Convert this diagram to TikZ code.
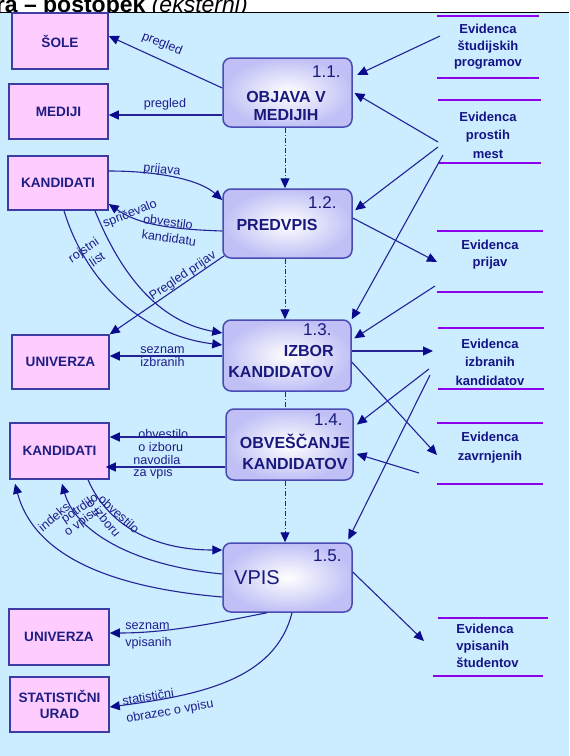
\documentclass[tikz,border=0pt]{standalone}
\usepackage{fontspec}
\setmainfont{Liberation Sans}
\usetikzlibrary{arrows.meta}

\definecolor{bgblue}{RGB}{204,236,255}
\definecolor{entfill}{RGB}{255,204,255}
\definecolor{entline}{RGB}{60,60,165}
\definecolor{entnavy}{RGB}{30,30,130}
\definecolor{procline}{RGB}{75,75,180}
\definecolor{proclav}{RGB}{192,192,246}
\definecolor{procnavy}{RGB}{25,25,125}
\definecolor{storenavy}{RGB}{20,20,135}
\definecolor{storeviolet}{RGB}{140,0,235}
\definecolor{flowblue}{RGB}{35,35,150}
\definecolor{tipnavy}{RGB}{10,10,140}
\definecolor{labnavy}{RGB}{30,30,140}

\begin{document}
\begin{tikzpicture}[x=0.5pt,y=-0.5pt,
  ent/.style={draw=entline, line width=0.75pt, fill=entfill, text=entnavy,
    font=\bfseries\fontsize{6.8}{8.5}\selectfont, align=center, inner sep=0pt},
  proc/.style={draw=procline, line width=0.75pt, rounded corners=4pt,
    inner color=white, outer color=proclav, inner sep=0pt},
  pnum/.style={text=procnavy, font=\fontsize{8.5}{10}\selectfont, inner sep=0pt, anchor=east},
  pname/.style={text=procnavy, font=\bfseries\fontsize{8}{9}\selectfont, inner sep=0pt, align=center},
  store/.style={text=storenavy, font=\bfseries\fontsize{6.5}{8.6}\selectfont, inner sep=0pt, align=center},
  storeline/.style={draw=storeviolet, line width=1.2pt},
  flow/.style={draw=flowblue, line width=0.55pt, -{Triangle[length=5pt,width=4.5pt,color=tipnavy]}},
  ctrl/.style={draw=flowblue, line width=0.5pt, dash pattern=on 2.5pt off 1pt on 0.5pt off 1pt},
  lbl/.style={text=labnavy, font=\fontsize{6.3}{6.5}\selectfont, inner sep=0pt}
]
\useasboundingbox (0,0) rectangle (569,756);
\clip (0,0) rectangle (569,756);

% heading, cut by the frame
\node[anchor=base west, inner sep=0pt, font=\fontsize{11.5}{13}\selectfont] (title) at (-4.5,12.5)
  {\bfseries ra – postopek \normalfont\itshape(eksterni)};
\fill[bgblue] (0,13) rectangle (569,756);
\draw[black, line width=0.7pt] (0,12.5) -- (569,12.5);

% external entities
\node[ent, minimum width=48pt, minimum height=28pt] (sole) at (60,41) {ŠOLE};
\node[ent, minimum width=49.5pt, minimum height=27.5pt] (mediji) at (58.5,111.5) {MEDIJI};
\node[ent, minimum width=50pt, minimum height=27pt] (kand1) at (58,183) {KANDIDATI};
\node[ent, minimum width=48.5pt, minimum height=27pt] (univ1) at (60.5,362) {UNIVERZA};
\node[ent, minimum width=49.5pt, minimum height=28pt] (kand2) at (59.5,451) {KANDIDATI};
\node[ent, minimum width=50pt, minimum height=28pt] (univ2) at (59,637) {UNIVERZA};
\node[ent, minimum width=49.5pt, minimum height=27.5pt, font=\bfseries\fontsize{6.8}{8}\selectfont] (stat) at (59.5,704.5) {STATISTIČNI\\URAD};

% processes
\node[proc, minimum width=64.5pt, minimum height=34.5pt] (p1) at (287.5,92.5) {};
\node[proc, minimum width=64.5pt, minimum height=34.5pt] (p2) at (287.5,223.5) {};
\node[proc, minimum width=64pt, minimum height=35.5pt] (p3) at (287,355.5) {};
\node[proc, minimum width=63.5pt, minimum height=35.5pt] (p4) at (289.5,444.5) {};
\node[proc, minimum width=64.5pt, minimum height=34.5pt] (p5) at (287.5,577.5) {};

\node[pnum] (p1num) at (341,72) {1.1.};
\node[pnum] (p2num) at (337,203) {1.2.};
\node[pnum] (p3num) at (332,330) {1.3.};
\node[pnum] (p4num) at (343,420) {1.4.};
\node[pnum] (p5num) at (342,556) {1.5.};
\node[pname] (p1txt) at (286,106) {OBJAVA V\\MEDIJIH};
\node[pname] (p2txt) at (277,225) {PREDVPIS};
\node[pname, align=right, anchor=east, font=\bfseries\fontsize{8}{10.5}\selectfont] (p3txt) at (334,361.5) {IZBOR\\KANDIDATOV};
\node[pname, font=\bfseries\fontsize{8}{10.5}\selectfont] (p4txt) at (295,451.5) {OBVEŠČANJE\\KANDIDATOV};
\node[pname, font=\fontsize{10}{12}\selectfont] (p5txt) at (257,578) {VPIS};

% data stores
\draw[storeline] (437,16) -- (539,16) (437,78) -- (539,78);
\draw[storeline] (438,100) -- (541,100) (438,163) -- (541,163);
\draw[storeline] (437,231) -- (543,231) (437,292) -- (543,292);
\draw[storeline] (438,328) -- (544,328) (438,389) -- (544,389);
\draw[storeline] (437,423) -- (543,423) (437,484) -- (543,484);
\draw[storeline] (438,618) -- (548,618) (433,676) -- (543,676);
\node[store, font=\bfseries\fontsize{6.5}{8.3}\selectfont] (ds1) at (488,47) {Evidenca\\študijskih\\programov};
\node[store, font=\bfseries\fontsize{6.5}{9.2}\selectfont] (ds2) at (488,135) {Evidenca\\prostih\\mest};
\node[store] (ds3) at (490,255) {Evidenca\\prijav};
\node[store, font=\bfseries\fontsize{6.5}{9.2}\selectfont] (ds4) at (490,362) {Evidenca\\izbranih\\kandidatov};
\node[store, font=\bfseries\fontsize{6.5}{9.5}\selectfont] (ds5) at (490,447.5) {Evidenca\\zavrnjenih};
\node[store, align=left, anchor=west] (ds6) at (456,646) {Evidenca\\vpisanih\\študentov};

% loose ends of the store flows
\coordinate (e1a) at (440,36);
\coordinate (e2a) at (438,142);
\coordinate (e2b) at (438,147);
\coordinate (e2c) at (443,155);
\coordinate (e3in) at (437,262);
\coordinate (e3out) at (435,286);
\coordinate (e4in) at (433,351);
\coordinate (e4a) at (429,369);
\coordinate (e4b) at (430,375);
\coordinate (e5in) at (437,455);
\coordinate (e5out) at (419,473);
\coordinate (e6in) at (424,641);

% control sequence between processes
\draw[ctrl, -{Triangle[length=5pt,width=4.5pt,color=tipnavy]}] (p1.south -| 285,0) -- (p2.north -| 285,0);
\draw[ctrl, -{Triangle[length=5pt,width=4.5pt,color=tipnavy]}] (p2.south -| 285,0) -- (p3.north -| 285,0);
\draw[ctrl] (p3.south -| 285,0) -- (p4.north -| 285,0);
\draw[ctrl, -{Triangle[length=5pt,width=4.5pt,color=tipnavy]}] (p4.south -| 285,0) -- (p5.north -| 285,0);

% flows between stores and processes
\draw[flow, shorten >=2.5pt] (e1a) -- (p1.east |- 0,77);
\draw[flow, shorten >=1pt] (e2a) -- (p1.east |- 0,92);
\draw[flow, shorten >=1.5pt] (e2b) -- (p2.east |- 0,212);
\draw[flow] (e2c) -- (p3.north east);
\draw[flow] (p2.east |- 0,218) -- (e3in);
\draw[flow, shorten >=1.5pt] (e3out) -- (p3.east |- 0,340);
\draw[flow] (p3.east |- 0,351) -- (e4in);
\draw[flow] (p3.east |- 0,362) -- (e5in);
\draw[flow, shorten >=2pt] (e4a) -- (p4.east |- 0,427);
\draw[flow, shorten >=1.5pt] (e4b) -- (p5.north -| 347,0);
\draw[flow, shorten >=1.5pt] (e5out) -- (p4.east |- 0,453);
\draw[flow] (p5.east |- 0,572) -- (e6in);

% flows between entities and processes
\draw[flow] (p1.west |- 0,88) -- (sole.east |- 0,36);
\draw[flow] (p1.west |- 0,115) -- (mediji.east |- 0,115);
\draw[flow] (kand1.east |- 0,171) .. controls (160,171) and (200,180) .. (p2.west |- 0,200);
\draw[flow] (p2.west |- 0,231) .. controls (160,229) and (135,222) .. (kand1.east |- 0,204);
\draw[flow] (kand1.south -| 95,0) .. controls (115,260) and (150,320) .. (p3.west |- 0,333);
\draw[flow] (kand1.south -| 64,0) .. controls (85,280) and (140,335) .. (p3.west |- 0,345);
\draw[flow] ([xshift=1pt,yshift=1.5pt]p2.south west) -- (univ1.north east);
\draw[flow] (p3.west |- 0,356) -- (univ1.east |- 0,356);
\draw[flow] (p4.west |- 0,437) -- (kand2.east |- 0,437);
\draw[flow] (p4.west |- 0,467) -- ([xshift=-2pt]kand2.east |- 0,467);
\draw[flow] (kand2.south -| 88,0) .. controls (110,530) and (160,550) .. (p5.west |- 0,550);
\draw[flow] (p5.west |- 0,574) .. controls (130,565) and (75,530) .. ([yshift=-2pt]kand2.south -| 62,0);
\draw[flow] (p5.west |- 0,597) .. controls (80,585) and (30,540) .. ([yshift=-2pt]kand2.south -| 15,0);
\draw[flow] (p5.south -| 267,0) .. controls (220,622) and (170,633) .. (univ2.east |- 0,633);
\draw[flow] (p5.south -| 292,0) .. controls (275,680) and (200,695) .. (stat.east |- 0,707);

% flow labels
\node[lbl, rotate=-22] (l1) at (162,44) {pregled};
\node[lbl] (l2) at (165,104) {pregled};
\node[lbl, rotate=-6] (l3) at (162,170) {prijava};
\node[lbl, rotate=-8] (l4) at (168,222) {obvestilo};
\node[lbl, rotate=-8] (l5) at (169,238) {kandidatu};
\node[lbl, rotate=34] (l6) at (84,251) {rojstni};
\node[lbl, rotate=34] (l7) at (97,259) {list};
\node[lbl, rotate=22] (l8) at (130,214) {spričevalo};
\node[lbl, rotate=34] (l9) at (183,276) {Pregled prijav};
\node[lbl, align=left, anchor=west, font=\fontsize{6.3}{6.5}\selectfont] (l10) at (140,356.5) {seznam\\izbranih};
\node[lbl, align=left, anchor=west, font=\fontsize{6.3}{6.5}\selectfont] (l11) at (138,440.5) {obvestilo\\o izboru};
\node[lbl, align=left, anchor=west, font=\fontsize{6.3}{6}\selectfont] (l12) at (133,467) {navodila\\za vpis};
\node[lbl, rotate=-42] (l13) at (119,514) {obvestilo};
\node[lbl, rotate=-50] (l14) at (104,518) {o izboru};
\node[lbl, rotate=35] (l15) at (80,509) {potrdilo};
\node[lbl, rotate=36] (l16) at (82,522) {o vpisu};
\node[lbl, rotate=40] (l17) at (54,517) {indeks};
\node[lbl, align=left, anchor=west, font=\fontsize{6.3}{8.5}\selectfont] (l18) at (125,635.5) {seznam\\vpisanih};
\node[lbl, rotate=9] (l19) at (148,697) {statistični};
\node[lbl, rotate=10] (l20) at (170,712) {obrazec o vpisu};
\end{tikzpicture}
\end{document}
